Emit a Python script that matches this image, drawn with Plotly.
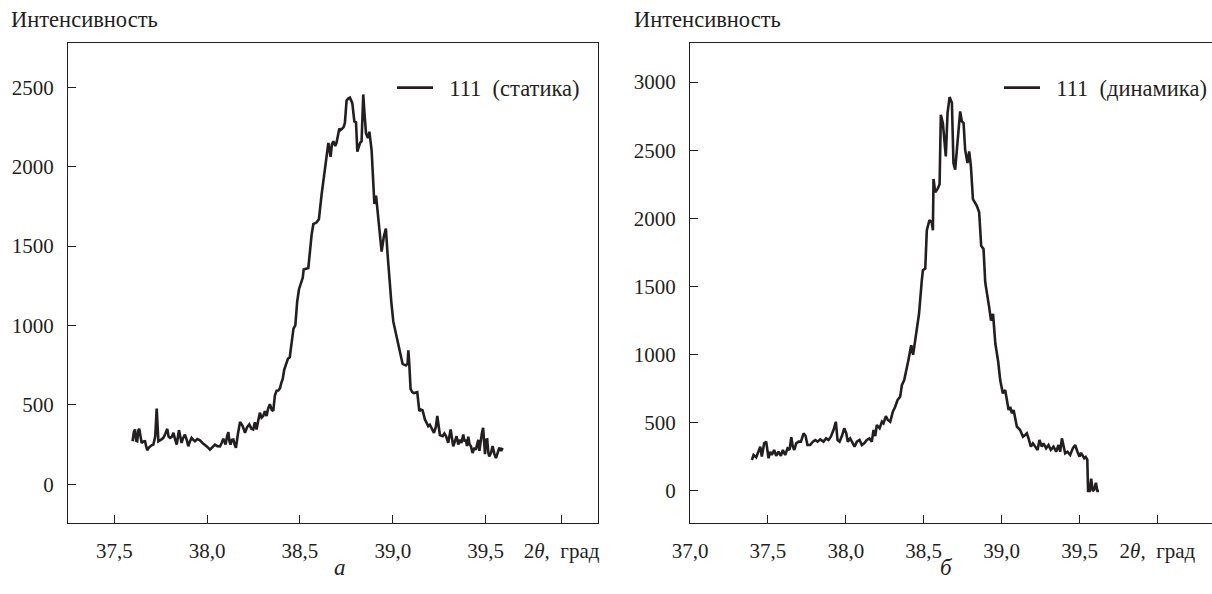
import plotly.graph_objects as go

# ---- data: panel a (static) ----
static_x = [37.598, 37.605, 37.611, 37.617, 37.623, 37.629, 37.634, 37.640, 37.647, 37.656,
            37.665, 37.671, 37.677, 37.685, 37.692, 37.700, 37.710, 37.720, 37.728, 37.737,
            37.750, 37.764, 37.775, 37.785, 37.792, 37.800, 37.810, 37.818, 37.828, 37.836,
            37.848, 37.855, 37.862, 37.870, 37.880, 37.890, 37.898, 37.907, 37.916, 37.925,
            37.934, 37.947, 37.961, 37.975, 37.988, 38.001, 38.015, 38.028, 38.042, 38.055,
            38.069, 38.078, 38.087, 38.093, 38.099, 38.107, 38.114, 38.120, 38.126, 38.133,
            38.141, 38.148, 38.155, 38.166, 38.177, 38.190, 38.204, 38.215, 38.227, 38.238,
            38.248, 38.257, 38.266, 38.275, 38.284, 38.293, 38.302, 38.311, 38.320, 38.329,
            38.338, 38.347, 38.356, 38.365, 38.374, 38.383, 38.392, 38.400, 38.407, 38.415,
            38.425, 38.435, 38.445, 38.455, 38.465, 38.475, 38.485, 38.495, 38.505, 38.515,
            38.520, 38.545, 38.563, 38.572, 38.590, 38.602, 38.617, 38.640, 38.653, 38.665,
            38.672, 38.680, 38.690, 38.697, 38.712, 38.718, 38.724, 38.735, 38.742, 38.751,
            38.760, 38.769, 38.782, 38.793, 38.802, 38.809, 38.816, 38.824, 38.832, 38.841,
            38.848, 38.856, 38.866, 38.874, 38.886, 38.901, 38.910, 38.920, 38.931, 38.940,
            38.952, 38.963, 38.972, 38.981, 38.992, 39.003, 39.021, 39.039, 39.053, 39.071,
            39.080, 39.084, 39.089, 39.096, 39.105, 39.114, 39.132, 39.143, 39.152, 39.161,
            39.173, 39.191, 39.200, 39.209, 39.222, 39.232, 39.240, 39.254, 39.269, 39.278,
            39.287, 39.299, 39.312, 39.326, 39.335, 39.344, 39.353, 39.362, 39.370, 39.380,
            39.387, 39.394, 39.400, 39.407, 39.414, 39.421, 39.430, 39.440, 39.448, 39.455,
            39.461, 39.467, 39.473, 39.480, 39.487, 39.492, 39.497, 39.503, 39.509, 39.515,
            39.520, 39.530, 39.538, 39.548, 39.556, 39.566, 39.574, 39.584, 39.592]
static_y = [271, 330, 345, 275, 271, 340, 349, 290, 260, 270,
            271, 240, 214, 230, 239, 245, 250, 300, 477, 271,
            280, 292, 320, 349, 300, 292, 300, 324, 280, 250,
            341, 300, 260, 290, 313, 280, 239, 270, 292, 280,
            271, 285, 277, 260, 250, 235, 218, 235, 250, 240,
            239, 260, 286, 270, 250, 300, 328, 270, 250, 280,
            282, 250, 229, 320, 392, 370, 324, 360, 377, 350,
            345, 390, 345, 400, 451, 420, 430, 460, 430, 480,
            504, 470, 462, 560, 589, 590, 604, 640, 663, 720,
            760, 790, 800, 900, 980, 1000, 1150, 1230, 1260, 1300,
            1352, 1362, 1574, 1638, 1650, 1669, 1828, 2041, 2150, 2062,
            2140, 2160, 2130, 2150, 2240, 2230, 2235, 2250, 2275, 2415,
            2430, 2435, 2400, 2285, 2280, 2095, 2130, 2150, 2160, 2455,
            2330, 2210, 2180, 2220, 2105, 1765, 1818, 1700, 1553, 1465,
            1560, 1610, 1450, 1300, 1150, 1024, 917, 833, 758, 748,
            760, 843, 760, 600, 580, 574, 580, 462, 470, 465,
            409, 366, 375, 355, 324, 360, 430, 310, 303, 320,
            303, 261, 345, 239, 270, 303, 250, 280, 260, 313,
            270, 280, 240, 300, 250, 240, 197, 230, 218, 260,
            280, 210, 282, 320, 356, 250, 190, 280, 282, 200,
            175, 200, 240, 190, 165, 200, 230, 210, 229]

# ---- data: panel b (dynamic) ----
dyn_x = [37.397, 37.408, 37.425, 37.440, 37.451, 37.461, 37.476, 37.489, 37.504, 37.515,
         37.525, 37.540, 37.553, 37.568, 37.583, 37.596, 37.611, 37.626, 37.639, 37.650,
         37.660, 37.669, 37.682, 37.697, 37.712, 37.729, 37.742, 37.754, 37.771, 37.789,
         37.804, 37.819, 37.836, 37.857, 37.874, 37.889, 37.904, 37.921, 37.936, 37.947,
         37.960, 37.975, 37.990, 38.003, 38.013, 38.028, 38.045, 38.056, 38.071, 38.088,
         38.103, 38.118, 38.135, 38.152, 38.167, 38.178, 38.189, 38.199, 38.217, 38.232,
         38.242, 38.257, 38.270, 38.285, 38.302, 38.317, 38.332, 38.349, 38.360, 38.375,
         38.400, 38.420, 38.432, 38.450, 38.470, 38.488, 38.495, 38.510, 38.520, 38.537,
         38.552, 38.559, 38.563, 38.574, 38.589, 38.602, 38.610, 38.623, 38.642, 38.653,
         38.666, 38.681, 38.691, 38.702, 38.717, 38.734, 38.745, 38.756, 38.766, 38.781,
         38.792, 38.803, 38.816, 38.841, 38.856, 38.869, 38.884, 38.895, 38.920, 38.932,
         38.945, 38.960, 38.978, 38.991, 39.008, 39.023, 39.034, 39.045, 39.055, 39.066,
         39.077, 39.087, 39.098, 39.119, 39.137, 39.151, 39.162, 39.173, 39.188, 39.201,
         39.216, 39.231, 39.243, 39.258, 39.269, 39.286, 39.301, 39.316, 39.333, 39.350,
         39.365, 39.376, 39.387, 39.398, 39.408, 39.423, 39.440, 39.457, 39.472, 39.487,
         39.500, 39.510, 39.520, 39.530, 39.540, 39.550, 39.555, 39.565, 39.575, 39.585,
         39.595, 39.605, 39.615, 39.625]
dyn_y = [227, 264, 247, 288, 325, 252, 350, 362, 240, 288,
         264, 301, 257, 288, 257, 301, 264, 313, 301, 394,
         325, 301, 350, 362, 362, 423, 403, 337, 337, 362,
         374, 362, 379, 362, 386, 374, 398, 447, 508, 374,
         362, 403, 460, 423, 362, 386, 350, 325, 362, 374,
         337, 350, 374, 386, 362, 447, 403, 484, 460, 508,
         496, 550, 521, 508, 582, 618, 667, 692, 777, 814,
         950, 1070, 1000, 1150, 1300, 1547, 1620, 1632, 1913, 1987,
         1970, 1913, 2289, 2191, 2216, 2250, 2760, 2699, 2455, 2772,
         2890, 2848, 2406, 2357, 2553, 2785, 2712, 2700, 2504, 2406,
         2492, 2382, 2142, 2093, 2045, 1799, 1775, 1530, 1350, 1250,
         1300, 1080, 950, 814, 716, 741, 667, 594, 618, 570,
         594, 545, 472, 447, 398, 411, 423, 386, 325, 350,
         325, 301, 374, 325, 350, 313, 337, 301, 325, 288,
         337, 288, 386, 325, 276, 288, 264, 313, 337, 288,
         252, 280, 260, 240, 250, 230, 0, 0, 90, 0,
         10, 60, 0, 0]

x_ticks_a = [37.5, 38.0, 38.5, 39.0, 39.5, 39.91]
x_text_a = ["37,5", "38,0", "38,5", "39,0", "39,5", "2<i>θ</i>,\u2002град"]
x_ticks_b = [37.0, 37.5, 38.0, 38.5, 39.0, 39.5, 40.0]
x_text_b = ["37,0", "37,5", "38,0", "38,5", "39,0", "39,5", "2<i>θ</i>,\u2002град"]
y_ticks_a = [0, 500, 1000, 1500, 2000, 2500]
y_ticks_b = [0, 500, 1000, 1500, 2000, 2500, 3000]
y_title = "Интенсивность"
legend_a = "\u2002111\u2002(статика)"
legend_b = "\u2002111\u2002(динамика)"
panel_labels = ["<i>а</i>", "<i>б</i>"]

W, H = 1212, 594
INK = "#231f20"
FAMILY = "Liberation Serif"
FONT = dict(family=FAMILY, size=21, color=INK)
LEGFONT = dict(family=FAMILY, size=22.5, color=INK)
TITLEFONT = dict(family=FAMILY, size=22.5, color=INK)

fig = go.Figure()
fig.add_trace(go.Scatter(x=static_x, y=static_y, mode="lines", name=legend_a,
                         line=dict(color=INK, width=2.6), xaxis="x", yaxis="y",
                         legend="legend"))
fig.add_trace(go.Scatter(x=dyn_x, y=dyn_y, mode="lines", name=legend_b,
                         line=dict(color=INK, width=2.6), xaxis="x2", yaxis="y2",
                         legend="legend2"))

top, bot = 43, 523
ydom = [(H - bot) / H, (H - top) / H]

common_x = dict(showline=True, linecolor=INK, linewidth=1.3, ticks="inside",
                ticklen=8, tickwidth=1.3, tickcolor=INK, showgrid=False,
                zeroline=False, tickfont=FONT, ticklabelstandoff=9, automargin=False)
common_y = dict(showline=True, linecolor=INK, linewidth=1.3, ticks="inside",
                ticklen=8, tickwidth=1.3, tickcolor=INK, showgrid=False,
                zeroline=False, tickfont=FONT, ticklabelstandoff=9, automargin=False)

fig.update_layout(
    template="none",
    width=W, height=H, margin=dict(l=0, r=0, t=0, b=0, autoexpand=False),
    paper_bgcolor="white", plot_bgcolor="white", font=FONT,
    xaxis=dict(domain=[68 / W, 598 / W], range=[37.25, 40.106], anchor="y",
               tickvals=x_ticks_a, ticktext=x_text_a, mirror=True, **common_x),
    yaxis=dict(domain=ydom, range=[-244, 2779], anchor="x",
               tickvals=y_ticks_a, ticktext=[str(v) for v in y_ticks_a],
               mirror=True, **common_y),
    xaxis2=dict(domain=[690 / W, 1.0], range=[37.0, 37.0 + 522 / 155.8], anchor="y2",
                tickvals=x_ticks_b, ticktext=x_text_b, mirror=True, **common_x),
    yaxis2=dict(domain=ydom, range=[-235, 3287], anchor="x2",
                tickvals=y_ticks_b, ticktext=[str(v) for v in y_ticks_b],
                mirror=False, **common_y),
    legend=dict(x=392 / W, y=1 - 88 / H, xanchor="left", yanchor="middle",
                bgcolor="rgba(0,0,0,0)", font=LEGFONT, itemwidth=36),
    legend2=dict(x=999 / W, y=1 - 88 / H, xanchor="left", yanchor="middle",
                 bgcolor="rgba(0,0,0,0)", font=LEGFONT, itemwidth=36),
    showlegend=True,
)

fig.add_annotation(text=y_title, x=9 / W, y=1 - 20 / H, xref="paper", yref="paper",
                   xanchor="left", yanchor="middle", showarrow=False, font=TITLEFONT)
fig.add_annotation(text=y_title, x=632 / W, y=1 - 20 / H, xref="paper", yref="paper",
                   xanchor="left", yanchor="middle", showarrow=False, font=TITLEFONT)
fig.add_annotation(text=panel_labels[0], x=340 / W, y=1 - 567 / H, xref="paper",
                   yref="paper", xanchor="center", yanchor="middle", showarrow=False,
                   font=dict(family=FAMILY, size=23, color=INK))
fig.add_annotation(text=panel_labels[1], x=946 / W, y=1 - 567 / H, xref="paper",
                   yref="paper", xanchor="center", yanchor="middle", showarrow=False,
                   font=dict(family=FAMILY, size=23, color=INK))

fig.write_html("out.html",
               config={"displayModeBar": False},
               post_script="document.body.style.margin='0';document.body.style.padding='0';"
                           "document.body.style.overflow='hidden';")
